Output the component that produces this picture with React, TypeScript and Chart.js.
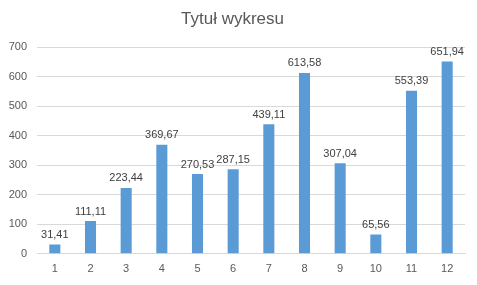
import React, { useEffect, useRef } from "react";
import { Chart, registerables } from "chart.js";

Chart.register(...registerables);

const categories = ["1", "2", "3", "4", "5", "6", "7", "8", "9", "10", "11", "12"];
const values = [31.41, 111.11, 223.44, 369.67, 270.53, 287.15, 439.11, 613.58, 307.04, 65.56, 553.39, 651.94];
const chartTitle = "Tytuł wykresu";

const FONT = "'Liberation Sans', Arial, sans-serif";

const dataLabels = {
  id: "dataLabels",
  afterDatasetsDraw(chart: any) {
    const ctx = chart.ctx;
    const meta = chart.getDatasetMeta(0);
    ctx.save();
    ctx.font = `11px ${FONT}`;
    ctx.fillStyle = "#404040";
    ctx.textAlign = "center";
    ctx.textBaseline = "bottom";
    meta.data.forEach((bar: any, i: number) => {
      const v = values[i];
      const txt = v.toFixed(2).replace(".", ",");
      ctx.fillText(txt, bar.x, bar.y - 4);
    });
    ctx.restore();
  },
};

export default function App() {
  const ref = useRef<HTMLCanvasElement>(null);
  useEffect(() => {
    document.body.style.margin = "0";
    const chart = new Chart(ref.current!, {
      type: "bar",
      data: {
        labels: categories,
        datasets: [
          {
            data: values,
            backgroundColor: "#5B9BD5",
            barPercentage: 0.31,
            categoryPercentage: 1,
          },
        ],
      },
      options: {
        animation: false,
        responsive: false,
        layout: { padding: { left: 0, right: 12, top: 0, bottom: 0 } },
        plugins: {
          legend: { display: false },
          tooltip: { enabled: false },
          title: {
            display: true,
            text: chartTitle,
            color: "#595959",
            font: { family: FONT, size: 17, weight: "normal" },
            padding: { top: 9, bottom: 18 },
          },
        },
        scales: {
          x: {
            grid: { display: false, drawTicks: false },
            border: { display: true, color: "#D9D9D9" },
            ticks: { color: "#595959", font: { family: FONT, size: 11 }, padding: 9 },
          },
          y: {
            min: 0,
            max: 700,
            afterFit(scale: any) {
              scale.width = 37;
            },
            grid: { color: "#D9D9D9", drawTicks: false },
            border: { display: false },
            ticks: { stepSize: 100, color: "#595959", font: { family: FONT, size: 11 }, padding: 10 },
          },
        },
      },
      plugins: [dataLabels],
    });
    return () => chart.destroy();
  }, []);
  return (
    <div style={{ width: 477, height: 285 }}>
      <canvas ref={ref} width={477} height={285} />
    </div>
  );
}
